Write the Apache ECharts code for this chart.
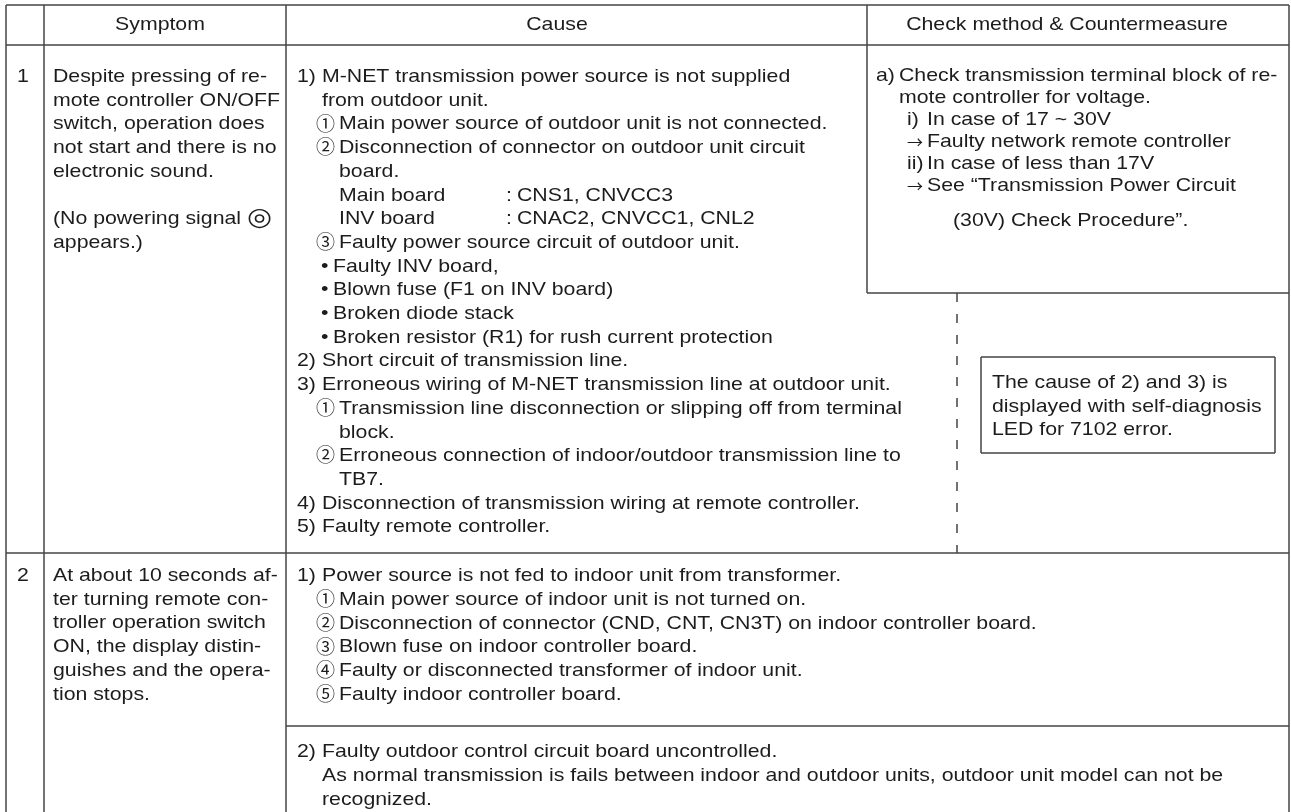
<!DOCTYPE html>
<html>
<head>
<meta charset="utf-8">
<script src="https://cdn.jsdelivr.net/npm/echarts/dist/echarts.min.js"></script>
<style>html,body{margin:0;padding:0;background:#fff}#c{width:1291px;height:812px}</style>
</head>
<body>
<div id="c"></div>
<script>
// ---------------- content ----------------
const headers = ['Symptom', 'Cause', 'Check method & Countermeasure'];
const rowNumbers = ['1', '2'];

const symptom1 = [
  'Despite pressing of re-',
  'mote controller ON/OFF',
  'switch, operation does',
  'not start and there is no',
  'electronic sound.',
  '',
  '(No powering signal \u25CE',
  'appears.)'
];

// [list level, marker, text]
const cause1 = [
  [0, '1)', 'M-NET transmission power source is not supplied'],
  [0, '', 'from outdoor unit.'],
  [1, '\u2460', 'Main power source of outdoor unit is not connected.'],
  [1, '\u2461', 'Disconnection of connector on outdoor unit circuit'],
  [1, '', 'board.'],
  [1, '', 'Main board\t: CNS1, CNVCC3'],
  [1, '', 'INV board\t: CNAC2, CNVCC1, CNL2'],
  [1, '\u2462', 'Faulty power source circuit of outdoor unit.'],
  [2, '\u2022', 'Faulty INV board,'],
  [2, '\u2022', 'Blown fuse (F1 on INV board)'],
  [2, '\u2022', 'Broken diode stack'],
  [2, '\u2022', 'Broken resistor (R1) for rush current protection'],
  [0, '2)', 'Short circuit of transmission line.'],
  [0, '3)', 'Erroneous wiring of M-NET transmission line at outdoor unit.'],
  [1, '\u2460', 'Transmission line disconnection or slipping off from terminal'],
  [1, '', 'block.'],
  [1, '\u2461', 'Erroneous connection of indoor/outdoor transmission line to'],
  [1, '', 'TB7.'],
  [0, '4)', 'Disconnection of transmission wiring at remote controller.'],
  [0, '5)', 'Faulty remote controller.']
];

const check1 = [
  [0, 'a)', 'Check transmission terminal block of re-'],
  [0, '', 'mote controller for voltage.'],
  [1, 'i)', 'In case of 17 ~ 30V'],
  [1, '\u2192', 'Faulty network remote controller'],
  [1, 'ii)', 'In case of less than 17V'],
  [1, '\u2192', 'See \u201CTransmission Power Circuit'],
  [2, '', '(30V) Check Procedure\u201D.']
];

const note1 = [
  'The cause of 2) and 3) is',
  'displayed with self-diagnosis',
  'LED for 7102 error.'
];

const symptom2 = [
  'At about 10 seconds af-',
  'ter turning remote con-',
  'troller operation switch',
  'ON, the display distin-',
  'guishes and the opera-',
  'tion stops.'
];

const cause2a = [
  [0, '1)', 'Power source is not fed to indoor unit from transformer.'],
  [1, '\u2460', 'Main power source of indoor unit is not turned on.'],
  [1, '\u2461', 'Disconnection of connector (CND, CNT, CN3T) on indoor controller board.'],
  [1, '\u2462', 'Blown fuse on indoor controller board.'],
  [1, '\u2463', 'Faulty or disconnected transformer of indoor unit.'],
  [1, '\u2464', 'Faulty indoor controller board.']
];

const cause2b = [
  [0, '2)', 'Faulty outdoor control circuit board uncontrolled.'],
  [0, '', 'As normal transmission is fails between indoor and outdoor units, outdoor unit model can not be'],
  [0, '', 'recognized.']
];

// ---------------- layout ----------------
const FS = 18.5, SX = 1.15, LH = 23.7, LH_CHECK = 22;
const FAMILY = '"Liberation Sans", Arial, "DejaVu Sans", sans-serif';
const FONT = FS + 'px ' + FAMILY;
const CIRC_FONT = '19px "Noto Sans CJK JP", "DejaVu Sans", sans-serif';
const ARROW_FONT = '16px "Noto Sans CJK JP", "DejaVu Sans", sans-serif';
const INK = '#1c1c1c', RULE = '#444';
const G = { left: 6, c1: 44, c2: 286, c3: 867, right: 1289, top: 5, head: 45, row1: 553, sub2: 726, bottom: 812,
  dashX: 957, boxBottom: 293, nx1: 981, nx2: 1275, ny1: 357, ny2: 453 };
const CAUSE_X = [[297, 322], [316, 339], [321, 333]];
const CHECK_X = [[876, 899], [907, 927], [953, 953]];
const TAB_X = [506, 517];

const els = [];
function text(x, y, s, align, font, sx) {
  const hasBig = s.indexOf('\u25CE') >= 0;
  els.push({
    type: 'text', x: x, y: y, scaleX: sx || SX, silent: true,
    style: {
      text: hasBig ? s.replace('\u25CE', '{big|\u25CE}') : s,
      font: font || FONT, fill: INK,
      align: align || 'left', verticalAlign: 'middle',
      textAlign: align || 'left', textVerticalAlign: 'middle',
      rich: hasBig ? { big: { fontSize: 25, fontFamily: 'DejaVu Sans', fill: INK, padding: [0, 0, 2, 0] } } : undefined
    }
  });
}
function marker(x, y, mk) {
  if (/[\u2460-\u2473]/.test(mk)) text(x, y - 1, mk, 'left', CIRC_FONT, 1);
  else if (mk === '\u2192') text(x, y, mk, 'left', ARROW_FONT, 1);
  else text(x, y, mk);
}
function line(x1, y1, x2, y2, dash) {
  els.push({
    type: 'line', silent: true,
    shape: { x1: x1, y1: y1, x2: x2, y2: y2 },
    style: { stroke: RULE, lineWidth: 1.5, lineDash: dash || null }
  });
}
function listBlock(lines, X, y0, lh, extraGapAt) {
  let y = y0;
  lines.forEach(function (l, i) {
    if (extraGapAt !== undefined && i === extraGapAt) y += 13;
    const lv = l[0], mk = l[1], t = l[2];
    if (mk) marker(X[lv][0], y, mk);
    if (t.indexOf('\t') >= 0) {
      const parts = t.split('\t');
      text(X[lv][1], y, parts[0]);
      text(TAB_X[0], y, ':');
      text(TAB_X[1], y, parts[1].replace(/^:\s*/, ''));
    } else {
      text(X[lv][1], y, t);
    }
    y += lh;
  });
}

// rules
line(G.left, G.top, G.right, G.top);
line(G.left, G.head, G.right, G.head);
line(G.left, G.row1, G.right, G.row1);
line(G.c2, G.sub2, G.right, G.sub2);
line(G.left, G.top, G.left, G.bottom);
line(G.c1, G.top, G.c1, G.bottom);
line(G.c2, G.top, G.c2, G.bottom);
line(G.right, G.top, G.right, G.bottom);
line(G.c3, G.top, G.c3, G.boxBottom);
line(G.c3, G.boxBottom, G.right, G.boxBottom);
line(G.dashX, G.boxBottom, G.dashX, G.row1, [9, 12]);
// note box
line(G.nx1, G.ny1, G.nx2, G.ny1);
line(G.nx1, G.ny2, G.nx2, G.ny2);
line(G.nx1, G.ny1, G.nx1, G.ny2);
line(G.nx2, G.ny1, G.nx2, G.ny2);

// headers
const headCenters = [160, 557, 1067];
headers.forEach(function (h, i) { text(headCenters[i], 25, h, 'center'); });

// row 1
const r1y = 77;
text(17, r1y, rowNumbers[0]);
symptom1.forEach(function (s, i) { if (s) text(53, r1y + i * LH, s); });
listBlock(cause1, CAUSE_X, r1y, LH);
listBlock(check1, CHECK_X, 76, LH_CHECK, 6);
note1.forEach(function (s, i) { text(992, 383 + i * 23.5, s); });

// row 2
const r2y = 576;
text(17, r2y, rowNumbers[1]);
symptom2.forEach(function (s, i) { text(53, r2y + i * LH, s); });
listBlock(cause2a, CAUSE_X, r2y, 23.8);
listBlock(cause2b, CAUSE_X, 752, 23.8);

const chart = echarts.init(document.getElementById('c'), null, { renderer: 'canvas' });
chart.setOption({ backgroundColor: '#fff', animation: false, graphic: { elements: els } });
</script>
</body>
</html>
